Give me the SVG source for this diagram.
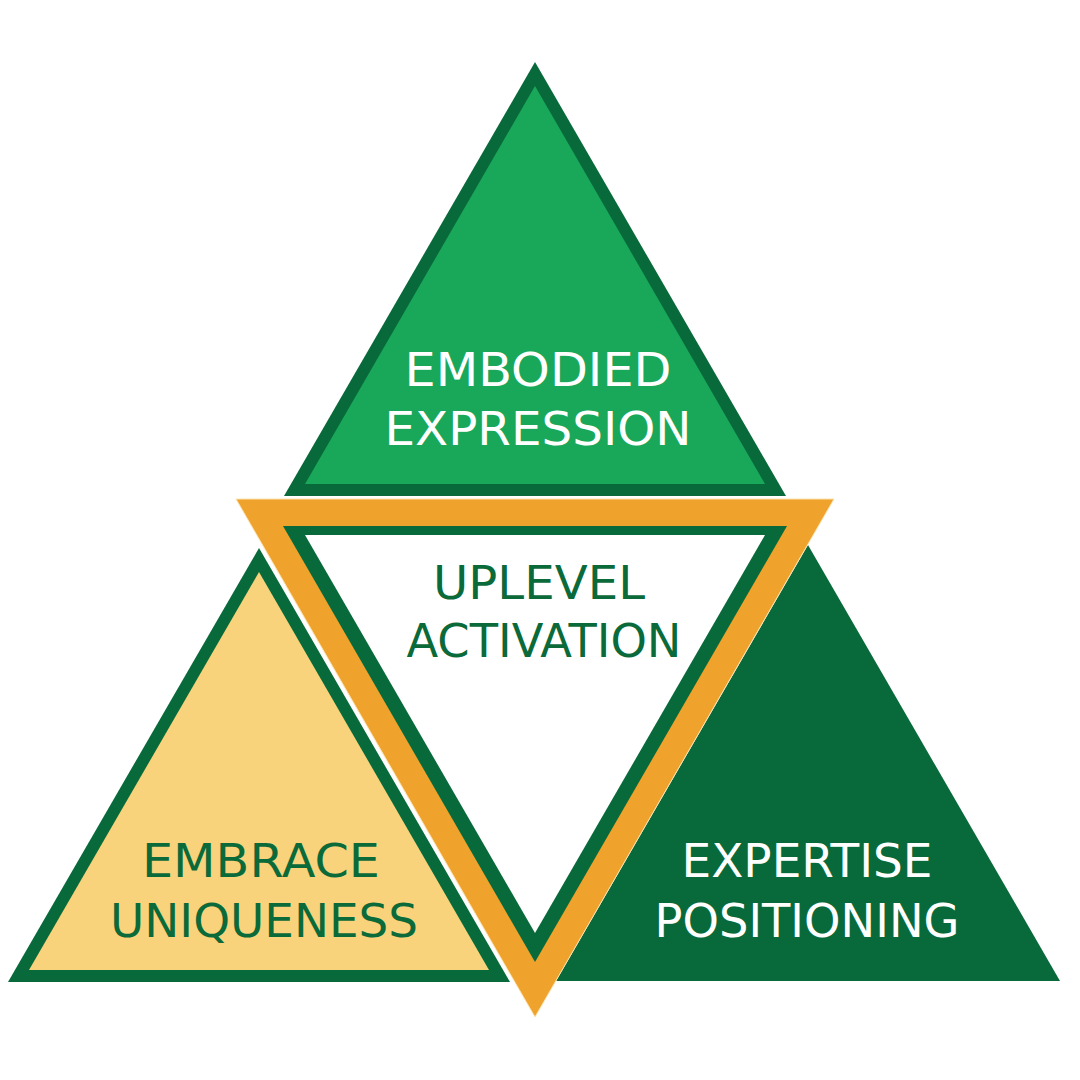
<svg xmlns="http://www.w3.org/2000/svg" width="1080" height="1080" viewBox="0 0 1080 1080">
  <style>
    .dark { fill: #086a3a; }
    .light { fill: #19a85a; }
    .yellow { fill: #f9d37b; }
    .orange { fill: #efa22c; stroke: #fbe3b0; stroke-width: 1; }
    .white { fill: #ffffff; }
    .lbl { font-family: "DejaVu Sans", "Liberation Sans", sans-serif; font-size: 46px; font-weight: 400; text-anchor: middle; }
    .lw { fill: #ffffff; }
    .lg { fill: #0b6a39; }
  </style>
  <rect width="1080" height="1080" fill="#ffffff"/>
  <g id="embodied-expression">
    <polygon class="dark" points="535,62 284,496 786,496"/>
    <polygon class="light" points="535,86 305,484 765,484"/>
    <text class="lbl lw" x="538" y="386" textLength="267" lengthAdjust="spacingAndGlyphs">EMBODIED</text>
    <text class="lbl lw" x="538" y="445" textLength="307" lengthAdjust="spacingAndGlyphs">EXPRESSION</text>
  </g>
  <g id="embrace-uniqueness">
    <polygon class="dark" points="259,548 8,982 510,982"/>
    <polygon class="yellow" points="259,572 29,970 489,970"/>
    <text class="lbl lg" x="261" y="877" textLength="238" lengthAdjust="spacingAndGlyphs">EMBRACE</text>
    <text class="lbl lg" x="264" y="937" textLength="308" lengthAdjust="spacingAndGlyphs">UNIQUENESS</text>
  </g>
  <g id="expertise-positioning">
    <polygon class="dark" points="808,545 556,981 1060,981"/>
    <text class="lbl lw" x="807" y="877" textLength="251" lengthAdjust="spacingAndGlyphs">EXPERTISE</text>
    <text class="lbl lw" x="807" y="937" textLength="305" lengthAdjust="spacingAndGlyphs">POSITIONING</text>
  </g>
  <g id="uplevel-activation">
    <polygon class="orange" points="236,499 834,499 535,1017"/>
    <polygon class="dark" points="283,526 787,526 535,962"/>
    <polygon class="white" points="305,535 765,535 535,933"/>
    <text class="lbl lg" x="539" y="599" textLength="212" lengthAdjust="spacingAndGlyphs">UPLEVEL</text>
    <text class="lbl lg" x="544" y="657" textLength="275" lengthAdjust="spacingAndGlyphs">ACTIVATION</text>
  </g>
  <g id="connectors"/>
</svg>
